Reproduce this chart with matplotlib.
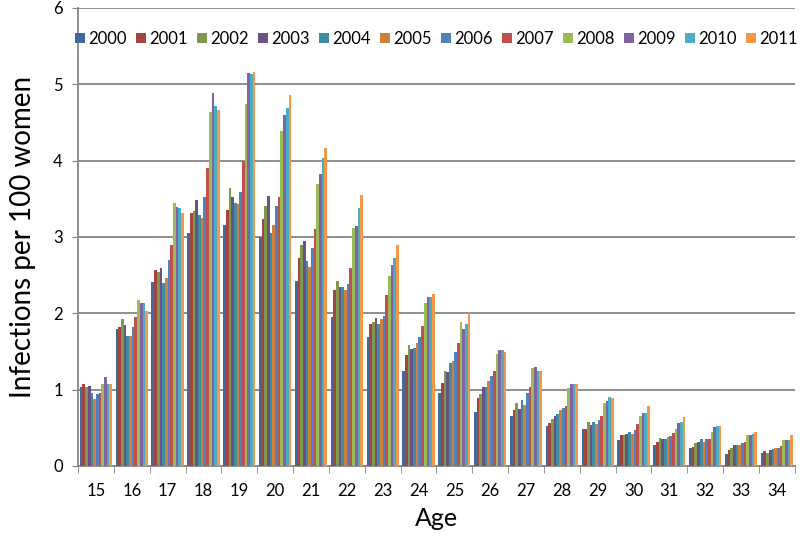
import matplotlib.pyplot as plt
import numpy as np

plt.rcParams['font.family'] = ['Lato', 'DejaVu Sans']

ages = [str(a) for a in range(15, 35)]
years = ['2000', '2001', '2002', '2003', '2004', '2005',
         '2006', '2007', '2008', '2009', '2010', '2011']

# rows = age 15..34, columns = year 2000..2011
v15 = [1.03, 1.07, 1.04, 1.05, 0.96, 0.88, 0.94, 0.96, 1.08, 1.17, 1.08, 1.07]
v16 = [1.79, 1.82, 1.93, 1.85, 1.70, 1.70, 1.82, 1.95, 2.17, 2.14, 2.13, 2.03]
v17 = [2.41, 2.57, 2.54, 2.59, 2.40, 2.46, 2.70, 2.90, 3.44, 3.39, 3.38, 3.31]
v18 = [3.05, 3.31, 3.34, 3.48, 3.29, 3.25, 3.52, 3.91, 4.64, 4.88, 4.71, 4.66]
v19 = [3.16, 3.36, 3.64, 3.53, 3.44, 3.43, 3.59, 3.99, 4.74, 5.15, 5.14, 5.16]
v20 = [3.00, 3.23, 3.41, 3.54, 3.05, 3.16, 3.40, 3.53, 4.39, 4.60, 4.69, 4.86]
v21 = [2.42, 2.73, 2.90, 2.95, 2.69, 2.61, 2.86, 3.10, 3.69, 3.82, 4.04, 4.16]
v22 = [1.95, 2.31, 2.43, 2.34, 2.35, 2.31, 2.38, 2.59, 3.12, 3.14, 3.38, 3.55]
v23 = [1.69, 1.86, 1.88, 1.94, 1.86, 1.93, 1.97, 2.24, 2.49, 2.63, 2.72, 2.90]
v24 = [1.24, 1.45, 1.58, 1.53, 1.55, 1.61, 1.69, 1.84, 2.14, 2.22, 2.22, 2.25]
v25 = [0.95, 1.09, 1.25, 1.23, 1.35, 1.37, 1.49, 1.61, 1.88, 1.79, 1.86, 2.00]
v26 = [0.71, 0.89, 0.94, 1.03, 1.03, 1.11, 1.18, 1.25, 1.47, 1.52, 1.52, 1.49]
v27 = [0.66, 0.74, 0.83, 0.75, 0.86, 0.80, 0.96, 1.03, 1.29, 1.30, 1.25, 1.25]
v28 = [0.53, 0.56, 0.61, 0.66, 0.68, 0.73, 0.76, 0.79, 1.02, 1.08, 1.07, 1.07]
v29 = [0.48, 0.48, 0.58, 0.54, 0.58, 0.55, 0.60, 0.66, 0.83, 0.85, 0.90, 0.89]
v30 = [0.34, 0.41, 0.41, 0.42, 0.44, 0.42, 0.47, 0.55, 0.66, 0.70, 0.69, 0.78]
v31 = [0.27, 0.31, 0.37, 0.36, 0.35, 0.38, 0.39, 0.43, 0.48, 0.56, 0.58, 0.64]
v32 = [0.24, 0.25, 0.30, 0.32, 0.35, 0.31, 0.35, 0.35, 0.44, 0.51, 0.53, 0.52]
v33 = [0.16, 0.21, 0.24, 0.27, 0.28, 0.28, 0.30, 0.31, 0.41, 0.40, 0.42, 0.44]
v34 = [0.17, 0.19, 0.17, 0.21, 0.22, 0.24, 0.24, 0.26, 0.34, 0.34, 0.34, 0.40]

rates = np.array([v15, v16, v17, v18, v19, v20, v21, v22, v23, v24,
                  v25, v26, v27, v28, v29, v30, v31, v32, v33, v34])

colors = ['#41699B', '#A34441', '#7F994A', '#695285', '#3E8DA3', '#D27F3C',
          '#4F81BD', '#C0504D', '#9BBB59', '#8064A2', '#4BACC6', '#F79646']

fig = plt.figure(figsize=(8, 5.36), dpi=100)
ax = fig.add_axes([0.0975, 0.1306, 0.896, 0.8545])

x = np.arange(len(ages))
n = len(years)
w = 0.9 / n
for i in range(n):
    ax.bar(x - 0.45 + w * (i + 0.5), rates[:, i], width=w,
           color=colors[i], label=years[i], zorder=3)

ax.set_xlim(-0.5, len(ages) - 0.5)
ax.set_ylim(0, 6)
ax.set_yticks(range(7))
ax.yaxis.grid(True, color='#868686', linewidth=1.3, zorder=0)

ax.set_xticks(x)
ax.set_xticklabels(ages)
ax.set_xticks(np.arange(-0.5, len(ages)), minor=True)
ax.tick_params(axis='x', which='major', length=0, labelsize=12, pad=12)
ax.tick_params(axis='x', which='minor', length=5, color='#868686')
ax.tick_params(axis='y', length=4, color='#868686', labelsize=12, pad=7)

for s in ['top', 'right']:
    ax.spines[s].set_visible(False)
for s in ['left', 'bottom']:
    ax.spines[s].set_color('#868686')
    ax.spines[s].set_linewidth(1.3)

ax.set_xlabel('Age', fontsize=18, labelpad=6)
ax.set_ylabel('Infections per 100 women', fontsize=20, labelpad=12)

ax.legend(loc='upper center', ncol=12, frameon=False, fontsize=12,
          handlelength=0.55, handleheight=0.55, handletextpad=0.2,
          columnspacing=0.6, borderpad=0.2, bbox_to_anchor=(0.5, 0.975))

fig.savefig('out.png', dpi=100)
